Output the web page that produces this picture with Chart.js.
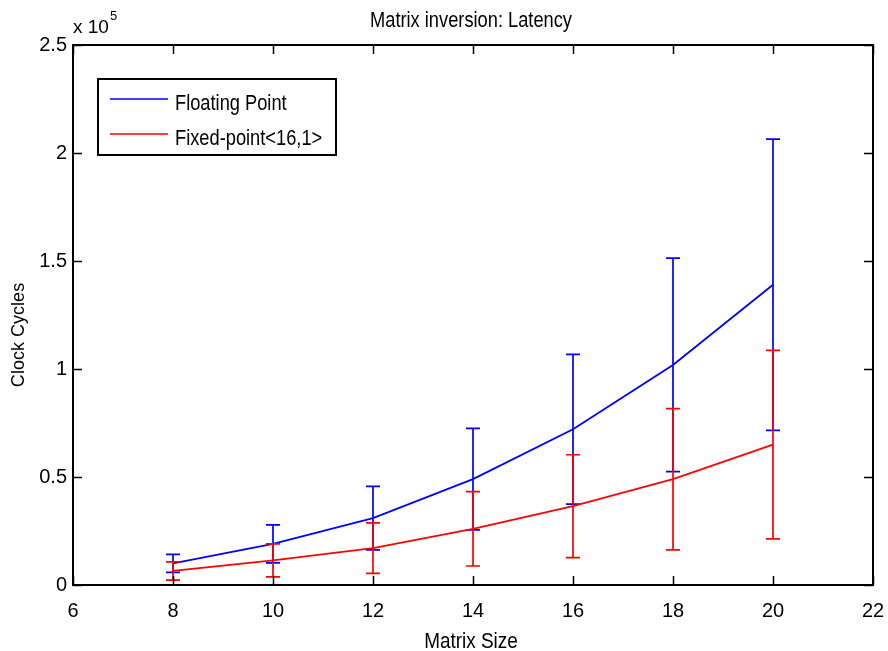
<!DOCTYPE html>
<html>
<head>
<meta charset="utf-8">
<script src="https://cdn.jsdelivr.net/npm/chart.js@4.4.1/dist/chart.umd.min.js"></script>
<style>
  html, body { margin: 0; padding: 0; background: #fff; }
  #wrap { width: 888px; height: 651px; }
</style>
</head>
<body>
<div id="wrap"><canvas id="latency"></canvas></div>
<script>
// matrix size vs. mean latency (clock cycles) with +/- spread
const matrixSizes = [8, 10, 12, 14, 16, 18, 20];
const floatLatency = [10000, 19000, 31000, 49000, 72100, 101900, 139000];
const floatSpread = [4200, 8800, 14700, 23500, 34700, 49400, 67400];
const fixedLatency = [6500, 11400, 17100, 26000, 36500, 49000, 65000];
const fixedSpread = [4200, 7600, 11700, 17200, 23800, 32700, 43600];
const yTickLabels = ['0', '0.5', '1', '1.5', '2', '2.5'];

const SANS = '"Liberation Sans", Arial, sans-serif';

const toPoints = (vals) => vals.map((v, i) => ({ x: matrixSizes[i], y: v }));
const spreads = [floatSpread, fixedSpread];

// text squeezed horizontally, like the narrow Helvetica of the plot window
function squeezed(ctx, text, x, y, sx, angle = 0) {
  ctx.save();
  ctx.translate(x, y);
  ctx.rotate(angle);
  ctx.scale(sx, 1);
  ctx.fillText(text, 0, 0);
  ctx.restore();
}

const matlabFrame = {
  id: 'matlabFrame',
  // error bars right after each series so later series sit on top
  afterDatasetDraw(chart, args) {
    const { ctx, scales: { x, y } } = chart;
    const ds = chart.data.datasets[args.index];
    const spread = spreads[args.index];
    ctx.save();
    ctx.strokeStyle = ds.borderColor;
    ctx.lineWidth = 1.7;
    ds.data.forEach((p, i) => {
      const px = x.getPixelForValue(p.x);
      const hi = y.getPixelForValue(p.y + spread[i]);
      const lo = y.getPixelForValue(p.y - spread[i]);
      ctx.beginPath();
      ctx.moveTo(px, hi); ctx.lineTo(px, lo);
      ctx.moveTo(px - 7, hi); ctx.lineTo(px + 7, hi);
      ctx.moveTo(px - 7, lo); ctx.lineTo(px + 7, lo);
      ctx.stroke();
    });
    ctx.restore();
  },
  afterDraw(chart) {
    const { ctx, chartArea: a, scales: { x, y } } = chart;
    const midX = (a.left + a.right) / 2 - 2;
    ctx.save();

    // inward ticks on all four sides
    ctx.strokeStyle = '#000';
    ctx.lineWidth = 1.5;
    ctx.beginPath();
    x.ticks.forEach(t => {
      const px = Math.round(x.getPixelForValue(t.value)) + 0.5;
      ctx.moveTo(px, a.bottom); ctx.lineTo(px, a.bottom - 9);
      ctx.moveTo(px, a.top); ctx.lineTo(px, a.top + 9);
    });
    y.ticks.forEach(t => {
      const py = Math.round(y.getPixelForValue(t.value)) + 0.5;
      ctx.moveTo(a.left, py); ctx.lineTo(a.left + 9, py);
      ctx.moveTo(a.right, py); ctx.lineTo(a.right - 9, py);
    });
    ctx.stroke();

    // axes box
    ctx.lineWidth = 2;
    ctx.strokeRect(a.left, a.top, a.right - a.left, a.bottom - a.top);

    // title, axis labels, exponent
    ctx.fillStyle = '#000';
    ctx.textBaseline = 'alphabetic';
    ctx.textAlign = 'center';
    ctx.font = '22px ' + SANS;
    squeezed(ctx, 'Matrix inversion: Latency', midX, 27, 0.83);
    squeezed(ctx, 'Matrix Size', midX, 648, 0.86);
    ctx.textBaseline = 'middle';
    ctx.font = '19px ' + SANS;
    squeezed(ctx, 'Clock Cycles', 19, (a.top + a.bottom) / 2 + 20, 0.95, -Math.PI / 2);

    ctx.textBaseline = 'alphabetic';
    ctx.textAlign = 'left';
    ctx.font = '19px ' + SANS;
    ctx.fillText('x 10', 73, 33);
    ctx.font = '13px ' + SANS;
    ctx.fillText('5', 110, 20);

    // legend box
    const lx = 98, ly = 79, lw = 238, lh = 76;
    ctx.fillStyle = '#fff';
    ctx.fillRect(lx, ly, lw, lh);
    ctx.lineWidth = 2;
    ctx.strokeStyle = '#000';
    ctx.strokeRect(lx, ly, lw, lh);
    ctx.font = '22px ' + SANS;
    chart.data.datasets.forEach((ds, i) => {
      const ry = 99 + i * 35;
      ctx.strokeStyle = ds.borderColor;
      ctx.lineWidth = 1.7;
      ctx.beginPath();
      ctx.moveTo(110, ry); ctx.lineTo(168, ry);
      ctx.stroke();
      ctx.fillStyle = '#000';
      squeezed(ctx, ds.label, 175, ry + 11, 0.83);
    });
    ctx.restore();
  }
};

new Chart(document.getElementById('latency'), {
  type: 'line',
  data: {
    datasets: [
      {
        label: 'Floating Point',
        data: toPoints(floatLatency),
        borderColor: '#0000ff',
        borderWidth: 1.8,
        order: 2
      },
      {
        label: 'Fixed-point<16,1>',
        data: toPoints(fixedLatency),
        borderColor: '#ff0000',
        borderWidth: 1.8,
        order: 1
      }
    ]
  },
  options: {
    responsive: true,
    maintainAspectRatio: false,
    animation: false,
    devicePixelRatio: 1,
    layout: { padding: { top: 45, right: 15, left: 0, bottom: 0 } },
    elements: { point: { radius: 0 }, line: { tension: 0 } },
    plugins: {
      legend: { display: false },
      title: { display: false },
      tooltip: { enabled: false }
    },
    scales: {
      x: {
        type: 'linear',
        min: 6,
        max: 22,
        ticks: {
          stepSize: 2,
          color: '#000',
          padding: 14,
          maxRotation: 0,
          font: { family: SANS, size: 20 }
        },
        grid: { display: false, drawTicks: false },
        border: { display: false },
        afterFit: (scale) => {
          scale.height = 66;
          scale.paddingLeft = 0;
          scale.paddingRight = 0;
        }
      },
      y: {
        min: 0,
        max: 250000,
        ticks: {
          stepSize: 50000,
          color: '#000',
          padding: 6,
          font: { family: SANS, size: 20 },
          callback: (value, index) => yTickLabels[index]
        },
        grid: { display: false, drawTicks: false },
        border: { display: false },
        afterFit: (scale) => { scale.width = 73; }
      }
    }
  },
  plugins: [matlabFrame]
});
</script>
</body>
</html>
